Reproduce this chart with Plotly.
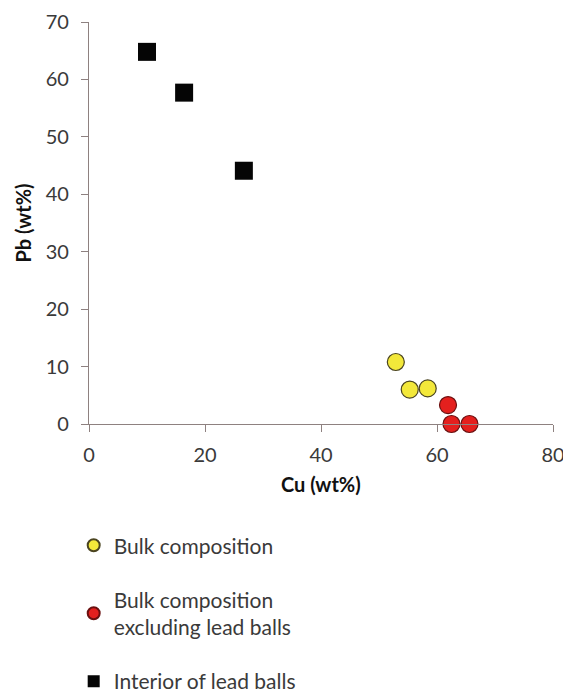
import plotly.graph_objects as go

# ── Data ─────────────────────────────────────────────────────────────────────
bulk_cu = [52.9, 55.3, 58.4]
bulk_pb = [10.8, 6.0, 6.2]

excl_cu = [61.9, 62.5, 65.6]
excl_pb = [3.3, 0.0, 0.0]

lead_cu = [10.0, 16.4, 26.7]
lead_pb = [64.8, 57.7, 44.1]

X_TICKS = [0, 20, 40, 60, 80]
Y_TICKS = [0, 10, 20, 30, 40, 50, 60, 70]

AXIS_COLOR = "#8E8180"
TEXT_COLOR = "#3A3A3A"
FONT = "Lato, 'Open Sans', sans-serif"

fig = go.Figure()
fig.add_trace(go.Scatter(
    x=bulk_cu, y=bulk_pb, mode="markers", name="Bulk composition",
    legendgroup="a", cliponaxis=False,
    marker=dict(symbol="circle", size=17, color="#F3E83A",
                line=dict(color="#4A4420", width=1.2)),
))
fig.add_trace(go.Scatter(
    x=excl_cu, y=excl_pb, mode="markers",
    name="Bulk composition<br>excluding lead balls",
    legendgroup="b", cliponaxis=False,
    marker=dict(symbol="circle", size=17, color="#E4201E",
                line=dict(color="#6A1010", width=1.2)),
))
fig.add_trace(go.Scatter(
    x=lead_cu, y=lead_pb, mode="markers", name="Interior of lead balls",
    legendgroup="c", cliponaxis=False,
    marker=dict(symbol="square", size=18, color="#050505",
                line=dict(color="#050505", width=0)),
))

# page body has an 8px margin, so the figure is 8px smaller each way
fig.update_layout(
    width=563, height=688,
    paper_bgcolor="white", plot_bgcolor="white",
    font=dict(family=FONT, color=TEXT_COLOR, size=17),
    margin=dict(l=81, r=18, t=14, b=272),
    showlegend=True,
    legend=dict(
        x=-0.033, y=0.2483, xanchor="left", yanchor="top", yref="container",
        orientation="v", tracegroupgap=24, itemwidth=30,
        font=dict(size=21, color=TEXT_COLOR),
        itemsizing="constant",
        bgcolor="rgba(0,0,0,0)",
    ),
    xaxis=dict(
        range=[0, 80], tickvals=X_TICKS, showgrid=False, zeroline=False,
        showline=True, linecolor=AXIS_COLOR, linewidth=1.3,
        ticks="outside", tickcolor=AXIS_COLOR, ticklen=7, automargin=False,
        ticklabelstandoff=6,
        tickfont=dict(size=20, color=TEXT_COLOR),
    ),
    yaxis=dict(
        range=[0, 70], tickvals=Y_TICKS, showgrid=False, zeroline=False,
        showline=True, linecolor=AXIS_COLOR, linewidth=1.3,
        ticks="outside", tickcolor=AXIS_COLOR, ticklen=7, automargin=False,
        ticklabelstandoff=8,
        tickfont=dict(size=20, color=TEXT_COLOR),
        title=dict(text="<b>Pb (wt%)</b>", font=dict(size=20, color="#111"),
                   standoff=8),
    ),
)

# x-axis title sits closer to the tick labels than plotly's standoff allows
fig.add_annotation(
    text="<b>Cu (wt%)</b>", xref="paper", yref="paper",
    x=0.5, y=-0.149, xanchor="center", yanchor="middle",
    showarrow=False, font=dict(size=20, color="#111", family=FONT),
)

fig.write_html("out.html")
